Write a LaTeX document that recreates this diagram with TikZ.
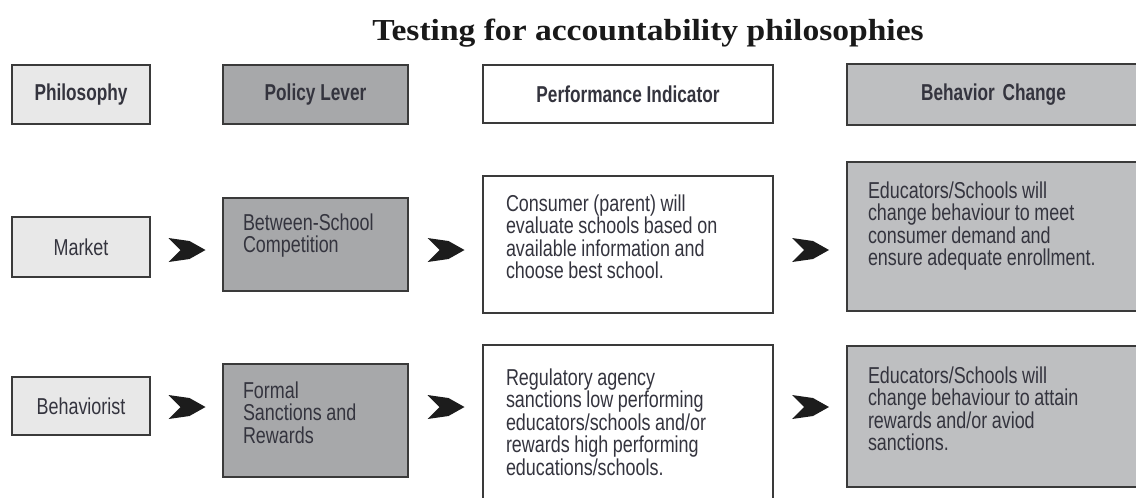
\documentclass[tikz,border=0pt]{standalone}
\usepackage{fontspec}
\usetikzlibrary{calc}
% condensed grotesque for the table, bold serif for the heading
\newfontfamily\labelfont[FakeStretch=0.78]{Liberation Sans}
\newfontfamily\headfont[FakeStretch=0.75]{Liberation Sans}
\newfontfamily\titlefont[FakeStretch=1.1]{Liberation Serif}
\newcommand\tightspaces{\spaceskip=4.6pt plus 1pt\relax}
\definecolor{edge}{HTML}{3A3A3A}
\definecolor{ink}{HTML}{34343E}
\definecolor{paleg}{HTML}{E8E8E8}
\definecolor{darkg}{HTML}{A7A8AA}
\definecolor{midg}{HTML}{BEBFC1}
\definecolor{chevfill}{HTML}{1C1C1C}
\begin{document}
\begin{tikzpicture}[x=1pt,y=-1pt,
  box/.style={draw=edge, line width=1.8pt, inner sep=0pt, outer sep=0pt, anchor=north west},
  hdr/.style={text=ink, font=\headfont\bfseries\fontsize{23}{25}\selectfont},
  tag/.style={text=ink, font=\labelfont\fontsize{23}{22.5}\selectfont},
  body/.style={text=ink, font=\labelfont\fontsize{23}{22.5}\selectfont,
    execute at begin node=\tightspaces,
    inner sep=0pt, outer sep=0pt, text width=260pt, align=left, anchor=base west},
  chev/.pic={\fill[chevfill] (-18,-12) -- (3,-9) -- (19,0) -- (3,9) -- (-18,12) -- (-6,0) -- cycle;}
]
\useasboundingbox (0,0) rectangle (1136,498);
\clip (0,0) rectangle (1136,498);

% heading
\node[font=\titlefont\bfseries\fontsize{30.5}{33}\selectfont, text=black!90, anchor=base, inner sep=0pt]
  (title) at (648,40) {Testing for accountability philosophies};

% column headers
\node[box, hdr, fill=paleg, minimum width=138, minimum height=59] (hPhil) at (12,65) {Philosophy};
\node[box, hdr, fill=darkg, minimum width=185, minimum height=59] (hLever) at (223,65) {Policy Lever};
\node[box, hdr, fill=white, minimum width=290, minimum height=58] (hInd) at (483,65) {Performance Indicator};
\node[box, hdr, fill=midg, minimum width=303, minimum height=61, text width=289, align=center] (hBeh) at (847,64) {\hspace*{-10pt}Behavior Change};

% market row
\node[box, tag, fill=paleg, minimum width=138, minimum height=60] (market) at (12,217) {Market};
\node[box, fill=darkg, minimum width=185, minimum height=93] (bsc) at (223,198) {};
\node[box, fill=white, minimum width=290, minimum height=137] (cons) at (483,176) {};
\node[box, fill=midg, minimum width=303, minimum height=149] (edu1) at (847,162) {};

\node[body] (bscT) at ($(bsc.north west)+(20,32)$) {Between-School\\Competition};
\node[body] (consT) at ($(cons.north west)+(23,35)$) {Consumer (parent) will\\evaluate schools based on\\available information and\\choose best school.};
\node[body] (edu1T) at ($(edu1.north west)+(21,36)$) {Educators/Schools will\\change behaviour to meet\\consumer demand and\\ensure adequate enrollment.};

% behaviorist row
\node[box, tag, fill=paleg, minimum width=138, minimum height=58] (behav) at (12,377) {Behaviorist};
\node[box, fill=darkg, minimum width=185, minimum height=113] (formal) at (223,364) {};
\node[box, fill=white, minimum width=290, minimum height=170] (reg) at (483,345) {};
\node[box, fill=midg, minimum width=303, minimum height=141] (edu2) at (847,346) {};

\node[body] (formalT) at ($(formal.north west)+(20,34)$) {Formal\\Sanctions and\\Rewards};
\node[body] (regT) at ($(reg.north west)+(23,40)$) {Regulatory agency\\sanctions low performing\\educators/schools and/or\\rewards high performing\\educations/schools.};
\node[body] (edu2T) at ($(edu2.north west)+(21,37)$) {Educators/Schools will\\change behaviour to attain\\rewards and/or aviod\\sanctions.};

% chevrons between the columns
\coordinate (rowA) at (0,250);
\coordinate (rowB) at (0,407);
\coordinate (g1) at ($(market.east)!0.5!(bsc.west)$);
\coordinate (g2) at ($(bsc.east)!0.5!(cons.west)$);
\coordinate (g3) at ($(cons.east)!0.5!(edu1.west)$);
\coordinate (g4) at ($(behav.east)!0.5!(formal.west)$);
\coordinate (g5) at ($(formal.east)!0.5!(reg.west)$);
\coordinate (g6) at ($(reg.east)!0.5!(edu2.west)$);
\pic at (g1 |- rowA) {chev};
\pic at (g2 |- rowA) {chev};
\pic at (g3 |- rowA) {chev};
\pic at (g4 |- rowB) {chev};
\pic at (g5 |- rowB) {chev};
\pic at (g6 |- rowB) {chev};
\end{tikzpicture}
\end{document}
